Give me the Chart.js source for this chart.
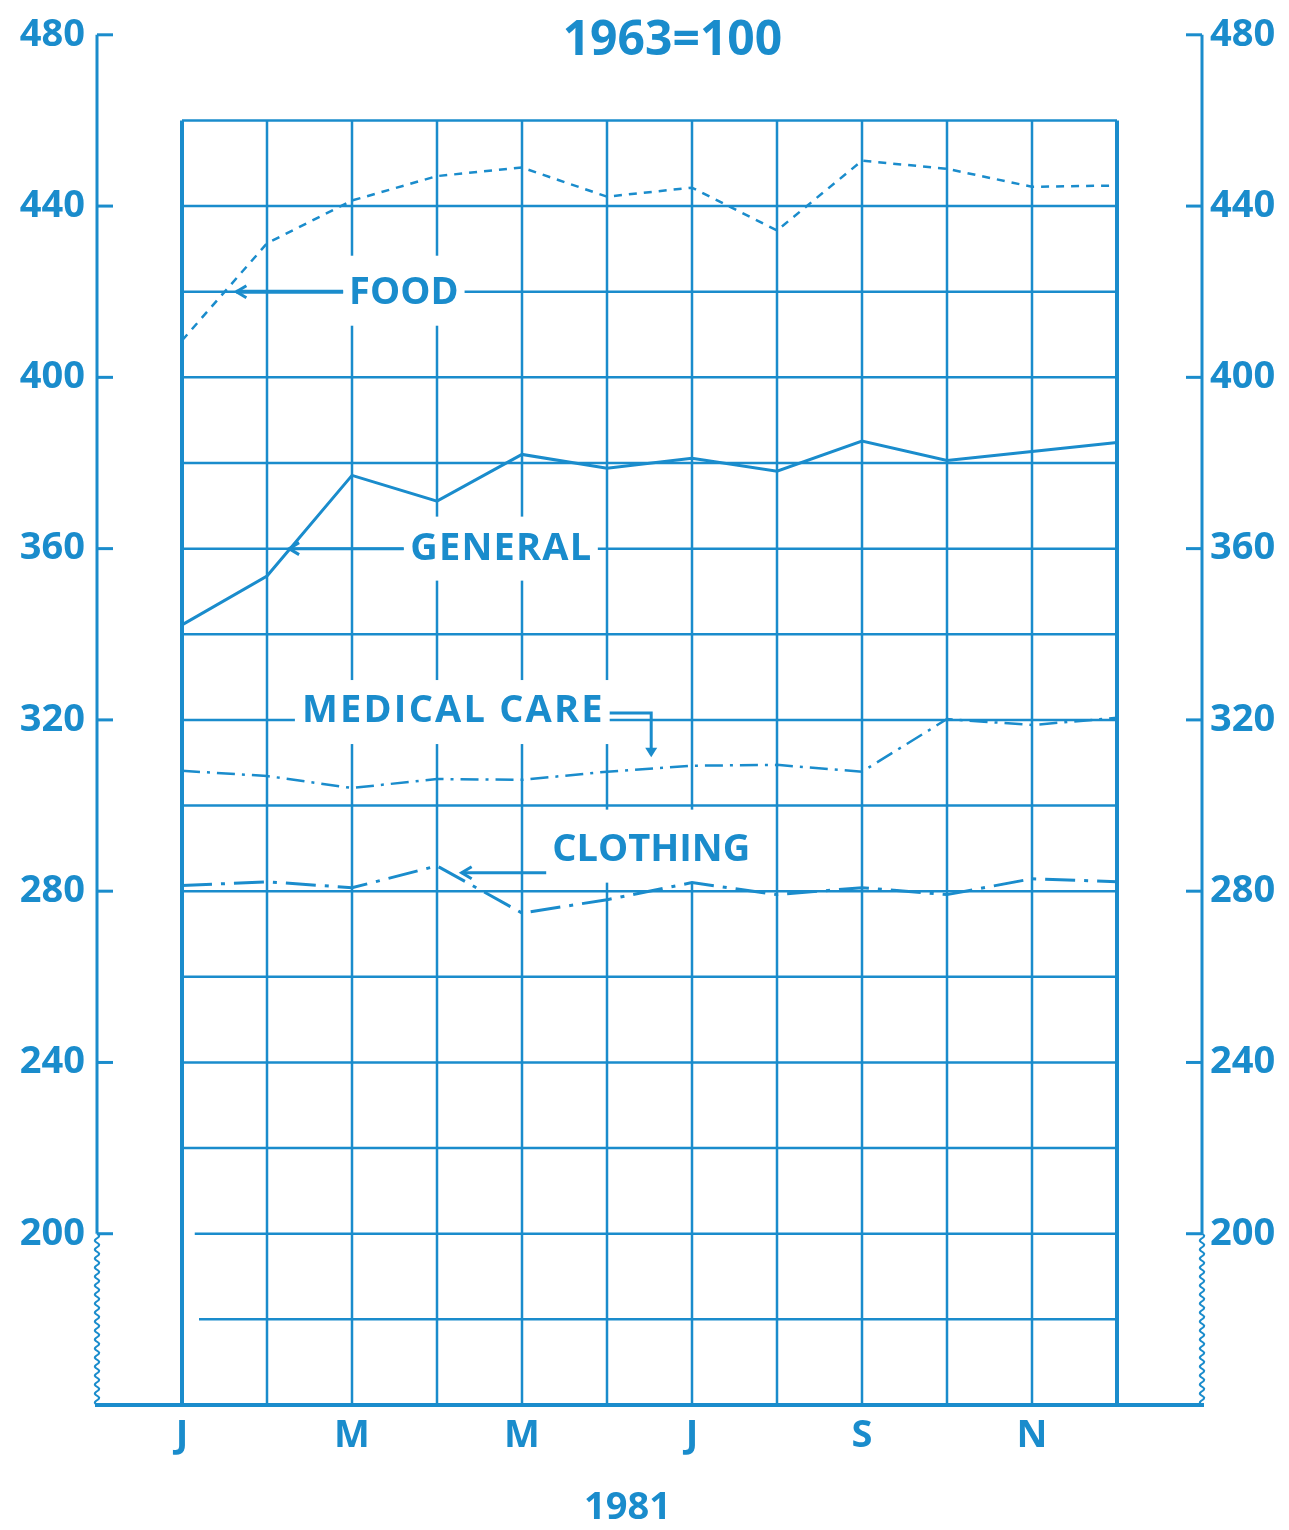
<!DOCTYPE html>
<html><head><meta charset="utf-8">
<script src="https://cdn.jsdelivr.net/npm/chart.js@4/dist/chart.umd.min.js"></script>
<style>html,body{margin:0;padding:0;background:#fff;}canvas{display:block;}</style>
</head><body>
<canvas id="c" width="1289" height="1530"></canvas>
<script>
// ---------- data ----------
const months = ['J','F','M','A','M','J','J','A','S','O','N','D'];
const xTickLabels = ['J','','M','','M','','J','','S','','N',''];
const yTickValues = [200,240,280,320,360,400,440,480];
const gridValues = [180,200,220,240,260,280,300,320,340,360,380,400,420,440,460];
const food     = [408.6,431.3,441.3,447.0,449.0,442.2,444.3,434.3,450.6,448.7,444.5,444.8];
const general  = [342.2,353.6,377.1,371.1,382.0,378.8,381.1,378.1,385.1,380.6,382.7,384.8];
const medical  = [308.1,306.9,304.1,306.2,306.0,307.9,309.3,309.5,307.9,320.2,318.8,320.5];
const clothing = [281.3,282.2,280.8,285.9,274.9,278.0,282.0,279.2,280.8,279.2,282.9,282.2];
const titleText = '1963=100';
const yearText = '1981';

const INK = '#1a8ccc';
const FONT = 'Open Sans, Liberation Sans, sans-serif';

const pts = arr => arr.map((v,i)=>({x:i,y:v}));

// ---------- annotation labels (in data units) ----------
const labels = [
  {text:'FOOD', x:2.61, y:420, box:[36,34], sp:0},
  {text:'GENERAL', x:3.75, y:360, box:[32,32], sp:1.2},
  {text:'MEDICAL CARE', x:3.18, y:322.3, box:[30,34], sp:2.2},
  {text:'CLOTHING', x:5.52, y:289.7, box:[40,33], sp:0}
];

const drawPlugin = {
  id:'paper',
  beforeDatasetsDraw(chart){
    const {ctx, scales:{x, y}} = chart;
    const X = v => x.getPixelForValue(v), Y = v => y.getPixelForValue(v);
    ctx.save();
    ctx.strokeStyle = INK; ctx.fillStyle = INK; ctx.lineCap = 'butt';
    // horizontal grid lines
    ctx.lineWidth = 2.5;
    gridValues.forEach(g=>{
      let start = 0;
      if (g===200) start = 0.15;
      if (g===180) start = 0.2;
      ctx.beginPath(); ctx.moveTo(X(start), Y(g)); ctx.lineTo(X(11), Y(g)); ctx.stroke();
    });
    // vertical grid lines
    months.forEach((m,i)=>{
      ctx.lineWidth = (i===0||i===11) ? 4 : 2.5;
      ctx.beginPath(); ctx.moveTo(X(i), Y(460)); ctx.lineTo(X(i), Y(160)); ctx.stroke();
    });
    // axes
    const wavy = (px) => {
      ctx.lineWidth = 2;
      ctx.beginPath();
      const y0 = Y(200), y1 = Y(160);
      ctx.moveTo(px, y0);
      for (let yy=y0; yy<=y1; yy+=1) {
        ctx.lineTo(px + 2.2*Math.sin((yy-y0)/9*2*Math.PI), yy);
      }
      ctx.stroke();
    };
    [-1, 12].forEach((xv, k)=>{
      const px = X(xv);
      ctx.lineWidth = 3;
      ctx.beginPath(); ctx.moveTo(px, Y(480)); ctx.lineTo(px, Y(200)); ctx.stroke();
      wavy(px);
      yTickValues.forEach(t=>{
        ctx.lineWidth = 3;
        ctx.beginPath(); ctx.moveTo(px, Y(t)); ctx.lineTo(px + (k===0?16:-16), Y(t)); ctx.stroke();
      });
    });
    ctx.lineWidth = 4;
    ctx.beginPath(); ctx.moveTo(X(-1)-2, Y(160)); ctx.lineTo(X(12)+2, Y(160)); ctx.stroke();

    // labels with white gaps
    ctx.font = '700 38px ' + FONT;
    ctx.textBaseline = 'middle'; ctx.textAlign = 'center';
    const widths = {};
    labels.forEach(l=>{
      ctx.letterSpacing = l.sp + 'px';
      const w = ctx.measureText(l.text).width;
      widths[l.text] = w;
      ctx.fillStyle = '#fff';
      ctx.fillRect(X(l.x)-w/2-6, Y(l.y)-l.box[0], w+12, l.box[0]+l.box[1]);
      ctx.fillStyle = INK;
      ctx.fillText(l.text, X(l.x) + l.sp/2, Y(l.y)+1);
    });
    ctx.letterSpacing = '0px';
    // leaders
    ctx.lineWidth = 3;
    const arrowL = (xp, yp) => { ctx.beginPath(); ctx.moveTo(xp+10, yp-6); ctx.lineTo(xp, yp); ctx.lineTo(xp+10, yp+6); ctx.stroke(); };
    // FOOD
    let tw = widths['FOOD'];
    ctx.lineWidth = 4;
    ctx.beginPath(); ctx.moveTo(X(0.64), Y(420)); ctx.lineTo(X(2.61)-tw/2-6, Y(420)); ctx.stroke();
    ctx.lineWidth = 3;
    arrowL(X(0.64), Y(420));
    // GENERAL
    tw = widths['GENERAL'];
    ctx.beginPath(); ctx.moveTo(X(1.26), Y(360)); ctx.lineTo(X(3.75)-tw/2-6, Y(360)); ctx.stroke();
    arrowL(X(1.26), Y(360));
    // MEDICAL CARE bracket
    tw = widths['MEDICAL CARE'];
    ctx.beginPath();
    ctx.moveTo(X(3.18)+tw/2+6, Y(321.6)); ctx.lineTo(X(5.52), Y(321.6)); ctx.lineTo(X(5.52), Y(312)); ctx.stroke();
    ctx.beginPath(); ctx.moveTo(X(5.52)-6, Y(313.5)); ctx.lineTo(X(5.52), Y(311.3)); ctx.lineTo(X(5.52)+6, Y(313.5)); ctx.closePath(); ctx.fill();
    // CLOTHING
    tw = widths['CLOTHING'];
    ctx.beginPath(); ctx.moveTo(X(3.29), Y(284.3)); ctx.lineTo(X(5.52)-tw/2-6, Y(284.3)); ctx.stroke();
    arrowL(X(3.29), Y(284.3));
    ctx.restore();
  },
  afterDraw(chart){
    const {ctx, scales:{x, y}} = chart;
    ctx.save();
    ctx.fillStyle = INK; ctx.textAlign = 'center'; ctx.textBaseline = 'middle';
    ctx.font = '700 48px ' + FONT;
    ctx.fillText(titleText, x.getPixelForValue(5.77), y.getPixelForValue(478.5));
    ctx.font = '700 38px ' + FONT;
    ctx.fillText(yearText, x.getPixelForValue(5.24), 1508);
    ctx.restore();
  }
};

const yAxis = (pos, pad, width) => ({
  type:'linear', position:pos, min:160, max:480,
  afterBuildTicks: s => { s.ticks = yTickValues.map(v=>({value:v})); },
  ticks:{color:INK, font:{family:FONT, size:38, weight:'700'}, padding:pad, callback:v=>String(v)},
  grid:{display:false, drawTicks:false}, border:{display:false},
  afterFit: s => { s.width = width; }
});

new Chart(document.getElementById('c'), {
  type:'line',
  data:{datasets:[
    {label:'FOOD', data:pts(food), borderColor:INK, borderWidth:2.5, borderDash:[8,7], pointRadius:0, tension:0},
    {label:'GENERAL', data:pts(general), borderColor:INK, borderWidth:3, pointRadius:0, tension:0},
    {label:'MEDICAL CARE', data:pts(medical), borderColor:INK, borderWidth:2.5, borderDash:[18,7,3,7], pointRadius:0, tension:0},
    {label:'CLOTHING', data:pts(clothing), borderColor:INK, borderWidth:3, borderDash:[30,9,4,9], pointRadius:0, tension:0}
  ]},
  options:{
    responsive:false, animation:false, devicePixelRatio:1,
    layout:{padding:{top:31, left:0, right:0, bottom:0}},
    plugins:{legend:{display:false}, tooltip:{enabled:false}},
    scales:{
      x:{type:'linear', min:-1, max:12,
        afterBuildTicks: s => { s.ticks = months.map((m,i)=>({value:i})).filter(t=>xTickLabels[t.value]); },
        ticks:{color:INK, font:{family:FONT, size:38, weight:'700'}, padding:8, maxRotation:0, autoSkip:false,
               callback:v=>xTickLabels[v]},
        grid:{display:false, drawTicks:false}, border:{display:false},
        afterFit: s => { s.height = 125; }
      },
      y: yAxis('left', 12, 97),
      y2: yAxis('right', 8, 87)
    }
  },
  plugins:[drawPlugin]
});
</script>
</body></html>
